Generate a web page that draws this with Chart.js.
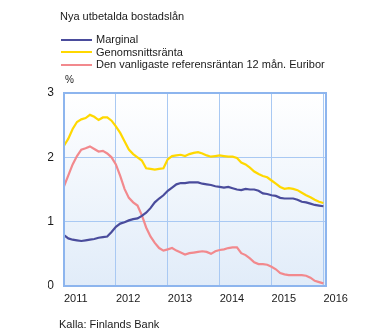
<!DOCTYPE html>
<html>
<head>
<meta charset="utf-8">
<script src="https://cdn.jsdelivr.net/npm/chart.js@4.4.1/dist/chart.umd.min.js"></script>
<style>
  body { margin: 0; background: #fff; font-family: "Liberation Sans", Arial, sans-serif; color: #1a1a1a; }
  #wrap { position: relative; width: 375px; height: 334px; overflow: hidden; }
  #chart { position: absolute; left: 0; top: 0; }
  .txt { position: absolute; font-size: 11px; line-height: 14px; white-space: nowrap; }
  .key { position: absolute; left: 61px; width: 31px; height: 2px; }
</style>
</head>
<body>
<div id="wrap">
  <canvas id="chart" width="375" height="334"></canvas>
  <div class="txt" style="left:60px;top:9px;">Nya utbetalda bostadslån</div>
  <div class="key" style="top:39px;background:#4a4c9c;"></div>
  <div class="txt" style="left:96px;top:32px;">Marginal</div>
  <div class="key" style="top:51px;background:#ffd800;"></div>
  <div class="txt" style="left:96px;top:45px;">Genomsnittsränta</div>
  <div class="key" style="top:64px;background:#f2898d;"></div>
  <div class="txt" style="left:96px;top:57px;">Den vanligaste referensräntan 12 mån. Euribor</div>
  <div class="txt" style="left:65px;top:73px;font-size:10px;">%</div>
  <div class="txt" style="left:59px;top:317px;">Kalla:  Finlands  Bank</div>
</div>
<script>
// monthly values, Jan 2011 .. Jan 2016
const startYear = 2011;
const yearTicks = [2011, 2012, 2013, 2014, 2015, 2016];

const marginal = [
  0.79, 0.74, 0.72, 0.71, 0.70, 0.71, 0.72, 0.73, 0.75, 0.76, 0.77, 0.84,
  0.92, 0.97, 0.99, 1.02, 1.04, 1.05, 1.09, 1.14, 1.21, 1.30, 1.36, 1.41,
  1.48, 1.53, 1.58, 1.60, 1.60, 1.61, 1.61, 1.61, 1.59, 1.58, 1.57, 1.55,
  1.54, 1.53, 1.54, 1.52, 1.50, 1.49, 1.51, 1.50, 1.50, 1.48, 1.44, 1.43,
  1.41, 1.40, 1.37, 1.36, 1.36, 1.36, 1.34, 1.31, 1.30, 1.28, 1.26, 1.25,
  1.24
];
const genomsnitt = [
  2.18, 2.29, 2.44, 2.55, 2.59, 2.61, 2.66, 2.63, 2.58, 2.62, 2.62, 2.57,
  2.48, 2.38, 2.25, 2.12, 2.05, 2.00, 1.95, 1.83, 1.82, 1.81, 1.82, 1.83,
  1.97, 2.02, 2.03, 2.04, 2.02, 2.05, 2.07, 2.08, 2.06, 2.03, 2.01, 2.02,
  2.03, 2.02, 2.01, 2.01, 1.99, 1.92, 1.89, 1.84, 1.78, 1.74, 1.71, 1.69,
  1.64, 1.59, 1.54, 1.51, 1.52, 1.51, 1.49, 1.45, 1.41, 1.38, 1.34, 1.31,
  1.29
];
const euribor = [
  1.55, 1.72, 1.89, 2.02, 2.12, 2.14, 2.17, 2.13, 2.09, 2.10, 2.06, 2.00,
  1.89, 1.71, 1.51, 1.37, 1.30, 1.25, 1.10, 0.91, 0.77, 0.67, 0.59, 0.55,
  0.57, 0.59, 0.55, 0.52, 0.49, 0.51, 0.52, 0.53, 0.54, 0.53, 0.50, 0.54,
  0.56, 0.57, 0.59, 0.60, 0.60, 0.51, 0.48, 0.43, 0.37, 0.34, 0.34, 0.33,
  0.30, 0.26, 0.20, 0.18, 0.17, 0.17, 0.17, 0.17, 0.16, 0.13, 0.08, 0.06,
  0.04
];

function toPoints(arr) {
  return arr.map((v, i) => ({ x: startYear + i / 12, y: v }));
}

const plotFrame = {
  id: 'plotFrame',
  beforeDraw(chart) {
    const a = chart.chartArea;
    const c = chart.ctx;
    const g = c.createLinearGradient(0, a.top, 0, a.bottom);
    g.addColorStop(0, '#ffffff');
    g.addColorStop(1, '#e1ecf9');
    c.save();
    c.fillStyle = g;
    c.fillRect(a.left, a.top, a.right - a.left, a.bottom - a.top);
    c.restore();
  },
  afterDraw(chart) {
    const a = chart.chartArea;
    const c = chart.ctx;
    c.save();
    c.strokeStyle = '#8db5ee';
    c.lineWidth = 2;
    c.strokeRect(a.left, a.top, a.right - a.left, a.bottom - a.top);
    c.restore();
  }
};

const ctx = document.getElementById('chart').getContext('2d');
const chart = new Chart(ctx, {
  type: 'line',
  data: {
    datasets: [
      { label: 'Marginal', data: toPoints(marginal), borderColor: '#4a4c9c', borderWidth: 2.2 },
      { label: 'Genomsnittsränta', data: toPoints(genomsnitt), borderColor: '#ffd800', borderWidth: 2.2 },
      { label: 'Den vanligaste referensräntan 12 mån. Euribor', data: toPoints(euribor), borderColor: '#f2898d', borderWidth: 2.2 }
    ]
  },
  options: {
    responsive: false,
    animation: false,
    devicePixelRatio: 1,
    elements: { point: { radius: 0 }, line: { tension: 0 } },
    layout: { padding: { left: 48, top: 93, right: 49, bottom: 28 } },
    plugins: { legend: { display: false }, title: { display: false }, tooltip: { enabled: false } },
    scales: {
      x: {
        type: 'linear',
        min: 2011,
        max: 2016.05,
        afterBuildTicks(scale) {
          scale.ticks = yearTicks.map(v => ({ value: v }));
        },
        afterFit(scale) { scale.height = 20; },
        grid: { color: '#a9c9f3', lineWidth: 1, drawTicks: false },
        border: { display: false },
        ticks: {
          align: 'start',
          padding: 6,
          color: '#1a1a1a',
          font: { family: 'Liberation Sans', size: 11 },
          callback: v => String(v)
        }
      },
      y: {
        min: 0,
        max: 3,
        afterFit(scale) { scale.width = 16; },
        grid: { color: '#a9c9f3', lineWidth: 1, drawTicks: false },
        border: { display: false },
        ticks: {
          stepSize: 1,
          padding: 10,
          color: '#1a1a1a',
          font: { family: 'Liberation Sans', size: 12 }
        }
      }
    }
  },
  plugins: [plotFrame]
});
</script>
</body>
</html>
